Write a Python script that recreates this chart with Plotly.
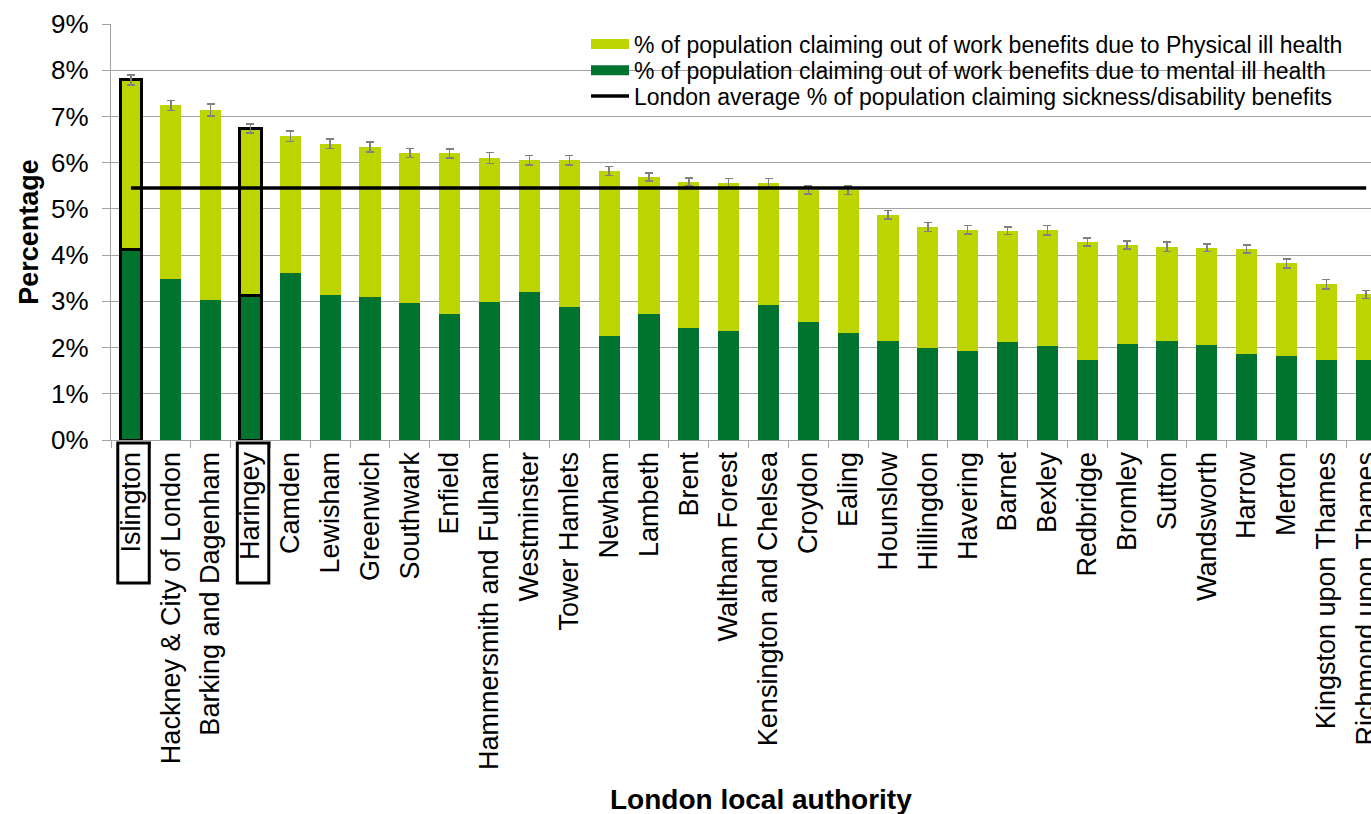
import plotly.graph_objects as go

authorities = [
    "Islington", "Hackney & City of London", "Barking and Dagenham", "Haringey",
    "Camden", "Lewisham", "Greenwich", "Southwark", "Enfield",
    "Hammersmith and Fulham", "Westminster", "Tower Hamlets", "Newham", "Lambeth",
    "Brent", "Waltham Forest", "Kensington and Chelsea", "Croydon", "Ealing",
    "Hounslow", "Hillingdon", "Havering", "Barnet", "Bexley", "Redbridge",
    "Bromley", "Sutton", "Wandsworth", "Harrow", "Merton",
    "Kingston upon Thames", "Richmond upon Thames",
]

mental = [4.12, 3.49, 3.02, 3.12, 3.61, 3.14, 3.10, 2.97, 2.73, 2.99, 3.20, 2.88,
          2.26, 2.73, 2.42, 2.36, 2.91, 2.55, 2.31, 2.14, 2.00, 1.93, 2.13, 2.03,
          1.73, 2.08, 2.14, 2.06, 1.85, 1.81, 1.73, 1.73]

physical = [3.67, 3.75, 4.12, 3.62, 2.96, 3.27, 3.24, 3.24, 3.47, 3.11, 2.85, 3.17,
            3.56, 2.96, 3.16, 3.20, 2.64, 2.86, 3.09, 2.73, 2.61, 2.62, 2.40, 2.51,
            2.55, 2.14, 2.04, 2.10, 2.28, 2.01, 1.64, 1.42]

error = [0.11, 0.11, 0.13, 0.10, 0.11, 0.10, 0.105, 0.10, 0.10, 0.12, 0.105, 0.10,
         0.095, 0.088, 0.09, 0.095, 0.11, 0.088, 0.09, 0.09, 0.095, 0.095, 0.08, 0.10,
         0.085, 0.085, 0.10, 0.08, 0.088, 0.095, 0.10, 0.088]

london_average = 5.45
highlighted = ["Islington", "Haringey"]

y_tick_values = [0, 1, 2, 3, 4, 5, 6, 7, 8, 9]
y_tick_labels = ["0%", "1%", "2%", "3%", "4%", "5%", "6%", "7%", "8%", "9%"]

legend_physical = "% of population claiming out of work benefits due to Physical ill health"
legend_mental = "% of population claiming out of work benefits due to mental ill health"
legend_line = "London average % of population claiming sickness/disability benefits"

LIGHT = "#bcd400"
DARK = "#00732e"
GRID = "#a3a3a3"
FONT = "Arial, Liberation Sans, sans-serif"

line_w = [3 if a in highlighted else 0 for a in authorities]
line_c = ["black" if a in highlighted else "rgba(0,0,0,0)" for a in authorities]

fig = go.Figure()

# legend-only entries (wide swatches), each in its own legend row
fig.add_trace(go.Scatter(x=[None], y=[None], mode="lines", name=legend_physical,
                         line=dict(color=LIGHT, width=12), hoverinfo="skip",
                         legend="legend"))
fig.add_trace(go.Scatter(x=[None], y=[None], mode="lines", name=legend_mental,
                         line=dict(color=DARK, width=12), hoverinfo="skip",
                         legend="legend2"))

fig.add_trace(go.Bar(x=authorities, y=mental, name=legend_mental, showlegend=False,
                     marker=dict(color=DARK, line=dict(width=line_w, color=line_c))))
fig.add_trace(go.Bar(x=authorities, y=physical, name=legend_physical, showlegend=False,
                     marker=dict(color=LIGHT, line=dict(width=line_w, color=line_c)),
                     error_y=dict(type="data", array=error, visible=True,
                                  color="#808080", thickness=1.5, width=4)))
fig.add_trace(go.Scatter(x=authorities, y=[london_average] * len(authorities),
                         mode="lines", name=legend_line, legend="legend3",
                         line=dict(color="black", width=3.5)))

# boxes around highlighted labels
for a in highlighted:
    i = authorities.index(a)
    fig.add_shape(type="rect", xref="x", yref="paper",
                  x0=i - 0.33, x1=i + 0.46, y0=-0.007, y1=-0.344,
                  line=dict(color="black", width=3), fillcolor="rgba(0,0,0,0)")

# white legend background hiding gridlines behind the legend
fig.add_shape(type="rect", xref="paper", yref="paper", layer="between",
              x0=0.356, x1=1.0, y0=0.795, y1=0.99,
              line=dict(width=0), fillcolor="white")

fig.add_annotation(text="<b>London local authority</b>", xref="paper", yref="paper",
                   x=0.516, y=-0.865, xanchor="center", yanchor="middle",
                   showarrow=False, font=dict(size=28, color="black", family=FONT))

legend_common = dict(x=0.377, xanchor="left", yanchor="middle",
                     bgcolor="rgba(0,0,0,0)",
                     font=dict(size=23, color="black", family=FONT), itemwidth=38)

fig.update_layout(
    width=1371, height=814,
    margin=dict(l=111, r=0, t=24, b=374, autoexpand=False),
    paper_bgcolor="white", plot_bgcolor="white",
    barmode="stack", bargap=0.47,
    font=dict(family=FONT, color="black"),
    showlegend=True,
    legend=dict(y=0.952, **legend_common),
    legend2=dict(y=0.889, **legend_common),
    legend3=dict(y=0.827, **legend_common),
    xaxis=dict(type="category", range=[-0.5, 31.12], tickangle=-90,
               tickfont=dict(size=27, color="black"), automargin=False,
               showline=True, linecolor=GRID, linewidth=1.3,
               ticks="outside", tickson="boundaries", ticklen=7, tickcolor=GRID,
               showgrid=False),
    yaxis=dict(range=[0, 9], tickmode="array", tickvals=y_tick_values,
               ticktext=y_tick_labels, automargin=False, ticklabelstandoff=8,
               tickfont=dict(size=26, color="black"),
               showline=True, linecolor=GRID, linewidth=1.3,
               ticks="outside", ticklen=8, tickcolor=GRID,
               showgrid=True, gridcolor=GRID, gridwidth=1.3, zeroline=False,
               title=dict(text="<b>Percentage</b>", font=dict(size=27, color="black"),
                          standoff=4)),
)

fig.write_html("out.html")
